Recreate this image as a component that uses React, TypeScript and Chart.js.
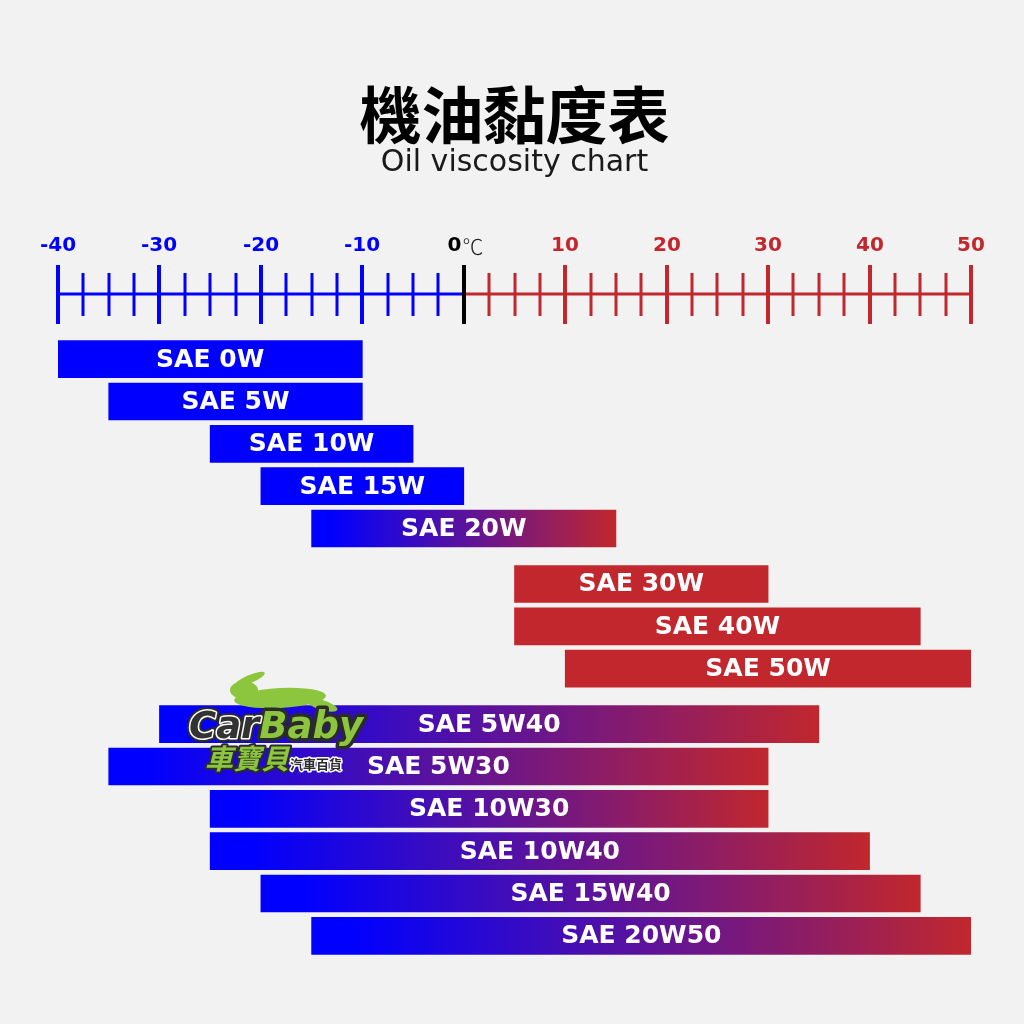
import React, { useEffect, useRef } from 'react';
import { Chart, registerables } from 'chart.js';

Chart.register(...registerables);

// ---- data ----
const grades = [
  'SAE 0W', 'SAE 5W', 'SAE 10W', 'SAE 15W', 'SAE 20W',
  'SAE 30W', 'SAE 40W', 'SAE 50W',
  'SAE 5W40', 'SAE 5W30', 'SAE 10W30', 'SAE 10W40', 'SAE 15W40', 'SAE 20W50',
];
const lowTemps = [-40, -35, -25, -20, -15, 5, 5, 10, -30, -35, -25, -25, -20, -15];
const highTemps = [-10, -10, -5, 0, 15, 30, 45, 50, 35, 30, 30, 40, 45, 50];
const groupIds = [0, 0, 0, 0, 0, 1, 1, 1, 2, 2, 2, 2, 2, 2];
const majorTicks = [-40, -30, -20, -10, 0, 10, 20, 30, 40, 50];
const tickLabels = ['-40', '-30', '-20', '-10', '0', '10', '20', '30', '40', '50'];
const minorStep = 2.5;
const titleText = '機油黏度表';
const subtitleText = 'Oil viscosity chart';

// ---- style ----
const BLUE = '#0000ff';
const RED = '#c1272d';
const BG = '#f2f2f2';
const GROUP_GAP = 0.31;
const LATIN = '"DejaVu Sans", "Noto Sans", sans-serif';
const CJK = '"Noto Sans CJK TC", "Noto Sans CJK SC", sans-serif';

const bgPlugin = {
  id: 'bgFill',
  beforeDraw(chart: any) {
    const { ctx, width, height } = chart;
    ctx.save();
    ctx.fillStyle = BG;
    ctx.fillRect(0, 0, width, height);
    ctx.restore();
  },
};

const rulerPlugin = {
  id: 'ruler',
  afterDraw(chart: any) {
    const { ctx, chartArea } = chart;
    const xs = chart.scales.x;
    const axisY = chartArea.top - 44;
    const px = (v: number) => Math.round(xs.getPixelForValue(v));
    ctx.save();
    ctx.lineWidth = 3;
    ctx.strokeStyle = BLUE;
    ctx.beginPath();
    ctx.moveTo(px(majorTicks[0]), axisY);
    ctx.lineTo(px(0), axisY);
    ctx.stroke();
    ctx.strokeStyle = RED;
    ctx.beginPath();
    ctx.moveTo(px(0), axisY);
    ctx.lineTo(px(majorTicks[majorTicks.length - 1]), axisY);
    ctx.stroke();
    const lo = majorTicks[0];
    const hi = majorTicks[majorTicks.length - 1];
    for (let v = lo; v <= hi + 1e-6; v += minorStep) {
      const isMajor = Math.abs(v % 10) < 1e-6;
      ctx.strokeStyle = v < 0 ? BLUE : v > 0 ? RED : '#000';
      ctx.lineWidth = isMajor ? 4 : 3;
      const up = isMajor ? 29 : 21;
      const down = isMajor ? 30 : 22;
      ctx.beginPath();
      ctx.moveTo(px(v), axisY - up);
      ctx.lineTo(px(v), axisY + down);
      ctx.stroke();
    }
    const labelY = axisY - 48;
    ctx.textBaseline = 'middle';
    majorTicks.forEach((v, i) => {
      const x = px(v);
      ctx.font = `bold 20px ${LATIN}`;
      if (v === 0) {
        const w0 = ctx.measureText(tickLabels[i]).width;
        ctx.font = `300 21px ${CJK}`;
        const w1 = ctx.measureText('℃').width;
        const start = x - (w0 + w1) / 2 + 1;
        ctx.textAlign = 'left';
        ctx.font = `bold 20px ${LATIN}`;
        ctx.fillStyle = '#000';
        ctx.fillText(tickLabels[i], start, labelY);
        ctx.font = `300 21px ${CJK}`;
        ctx.fillStyle = '#222';
        ctx.fillText('℃', start + w0 + 1, labelY);
      } else {
        ctx.textAlign = 'center';
        ctx.fillStyle = v < 0 ? BLUE : RED;
        ctx.fillText(tickLabels[i], x, labelY);
      }
    });
    ctx.restore();
  },
};

const barLabelPlugin = {
  id: 'barLabels',
  afterDatasetsDraw(chart: any) {
    const { ctx } = chart;
    const meta = chart.getDatasetMeta(0);
    ctx.save();
    ctx.font = `bold 25px ${LATIN}`;
    ctx.fillStyle = '#ffffff';
    ctx.textAlign = 'center';
    ctx.textBaseline = 'middle';
    meta.data.forEach((el: any, i: number) => {
      const { x, y, base } = el.getProps(['x', 'y', 'base'], true);
      ctx.fillText(grades[i], (x + base) / 2, y + 1);
    });
    ctx.restore();
  },
};

const logoPlugin = {
  id: 'logo',
  afterDraw(chart: any) {
    const { ctx } = chart;
    ctx.save();
    // rabbit silhouette (simple)
    ctx.fillStyle = '#8cc63f';
    ctx.beginPath();
    ctx.ellipse(280, 698, 46, 10, -0.05, 0, Math.PI * 2);
    ctx.fill();
    ctx.beginPath();
    ctx.ellipse(244, 690, 14, 9, 0, 0, Math.PI * 2);
    ctx.fill();
    ctx.beginPath();
    ctx.ellipse(250, 679, 16, 4, -0.4, 0, Math.PI * 2);
    ctx.fill();
    ctx.beginPath();
    ctx.ellipse(322, 705, 16, 5, 0.3, 0, Math.PI * 2);
    ctx.fill();
    // CarBaby word
    ctx.font = `italic bold 37px ${LATIN}`;
    ctx.textBaseline = 'alphabetic';
    ctx.textAlign = 'left';
    ctx.lineJoin = 'round';
    const x0 = 189;
    const y0 = 738;
    const wCar = ctx.measureText('Car').width;
    ctx.strokeStyle = '#2b2b2b';
    ctx.lineWidth = 7;
    ctx.strokeText('CarBaby', x0, y0);
    ctx.strokeStyle = '#ffffff';
    ctx.lineWidth = 3;
    ctx.strokeText('Car', x0, y0);
    ctx.fillStyle = '#333333';
    ctx.fillText('Car', x0, y0);
    ctx.fillStyle = '#8cc63f';
    ctx.fillText('Baby', x0 + wCar, y0);
    // Chinese
    ctx.font = `italic bold 28px ${CJK}`;
    ctx.strokeStyle = '#2b2b2b';
    ctx.lineWidth = 4;
    ctx.strokeText('車寶貝', 205, 769);
    ctx.fillStyle = '#8cc63f';
    ctx.fillText('車寶貝', 205, 769);
    ctx.font = `bold 13px ${CJK}`;
    ctx.strokeStyle = '#ffffff';
    ctx.lineWidth = 3;
    ctx.strokeText('汽車百貨', 290, 769);
    ctx.fillStyle = '#2b2b2b';
    ctx.fillText('汽車百貨', 290, 769);
    ctx.restore();
  },
};

export default function App() {
  const canvasRef = useRef<HTMLCanvasElement | null>(null);

  useEffect(() => {
    const canvas = canvasRef.current;
    if (!canvas) return;
    const positions = grades.map((_, i) => i + groupIds[i] * GROUP_GAP);
    const lastPos = positions[positions.length - 1];

    const chart = new Chart(canvas, {
      type: 'bar',
      data: {
        datasets: [
          {
            label: 'Temperature range (°C)',
            data: grades.map((_, i) => ({ x: [lowTemps[i], highTemps[i]], y: positions[i] })) as any,
            barThickness: 37,
            borderWidth: 0,
            borderSkipped: false,
            backgroundColor: (c: any) => {
              const i = c.dataIndex;
              if (i === undefined) return BLUE;
              const lo = lowTemps[i];
              const hi = highTemps[i];
              if (hi <= 0) return BLUE;
              if (lo >= 0) return RED;
              const xs = c.chart.scales.x;
              if (!xs) return BLUE;
              const a = xs.getPixelForValue(lo);
              const b = xs.getPixelForValue(hi);
              if (!isFinite(a) || !isFinite(b)) return BLUE;
              const g = c.chart.ctx.createLinearGradient(a, 0, b, 0);
              g.addColorStop(0, BLUE);
              g.addColorStop(0.06, BLUE);
              g.addColorStop(1, RED);
              return g;
            },
          } as any,
        ],
      },
      options: {
        indexAxis: 'y',
        responsive: false,
        animation: false,
        layout: { padding: { left: 58, right: 53, top: 0, bottom: 67 } },
        scales: {
          x: { type: 'linear', min: majorTicks[0], max: majorTicks[majorTicks.length - 1], display: false, offset: false },
          y: { type: 'linear', min: -0.5, max: lastPos + 0.5, reverse: true, display: false, offset: false },
        },
        plugins: {
          legend: { display: false },
          tooltip: { enabled: false },
          title: {
            display: true,
            text: titleText,
            color: '#000',
            font: { family: CJK, size: 62, weight: 'bold', lineHeight: 1 },
            padding: { top: 84, bottom: 0 },
          },
          subtitle: {
            display: true,
            text: subtitleText,
            color: '#1a1a1a',
            font: { family: LATIN, size: 30, weight: 'normal', lineHeight: 1 },
            padding: { top: 2, bottom: 160 },
          },
        },
      } as any,
      plugins: [bgPlugin, rulerPlugin, barLabelPlugin, logoPlugin],
    });
    return () => chart.destroy();
  }, []);

  return (
    <div style={{ position: 'absolute', left: 0, top: 0, width: 1024, height: 1024, background: BG }}>
      <canvas ref={canvasRef} width={1024} height={1024} />
    </div>
  );
}
